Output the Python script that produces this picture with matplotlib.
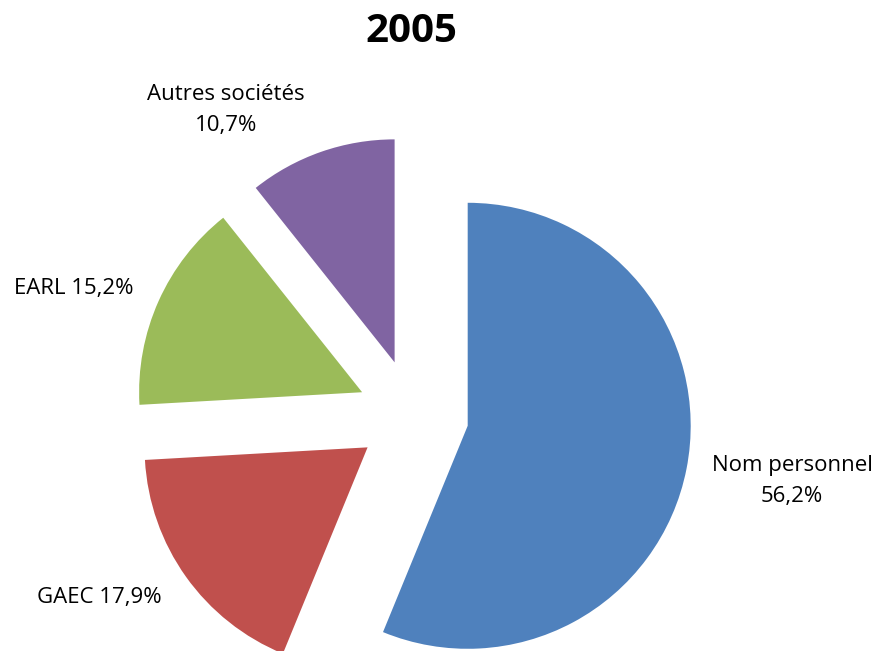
import matplotlib
matplotlib.use('AGG')
import matplotlib.pyplot as plt

labels = ['Nom personnel', 'GAEC', 'EARL', 'Autres sociétés']
values = [56.2, 17.9, 15.2, 10.7]
colors = ['#4F81BD', '#C0504D', '#9BBB59', '#8064A2']

W, H = 879, 651
plt.rcParams['font.family'] = ['Open Sans', 'DejaVu Sans']

fig = plt.figure(figsize=(W / 100, H / 100), dpi=100)
ax = fig.add_axes([0, 0, 1, 1])

# pie centre / radius in pixel units (y up)
cx, cy, r = 413, H - 415, 223
ax.pie(values, colors=colors, startangle=90, counterclock=False,
       explode=[0.25 * r] * 4, center=(cx, cy), radius=r,
       wedgeprops=dict(linewidth=0))
ax.set_xlim(0, W)
ax.set_ylim(0, H)
ax.axis('off')

def pct(v):
    return ('%.1f%%' % v).replace('.', ',')

# label positions (pixel, y down) and line layout
label_pos = [(792, 481, True), (99, 598, False), (74, 289, False), (226, 110, True)]
for lab, v, (x, y, two) in zip(labels, values, label_pos):
    txt = lab + ('\n' if two else ' ') + pct(v)
    ax.text(x, H - y, txt, ha='center', va='center', fontsize=16,
            linespacing=1.6, color='black')

ax.text(411, H - 32, '2005', ha='center', va='center', fontsize=29,
        fontweight='bold')

fig.savefig('out.png', dpi=100)
